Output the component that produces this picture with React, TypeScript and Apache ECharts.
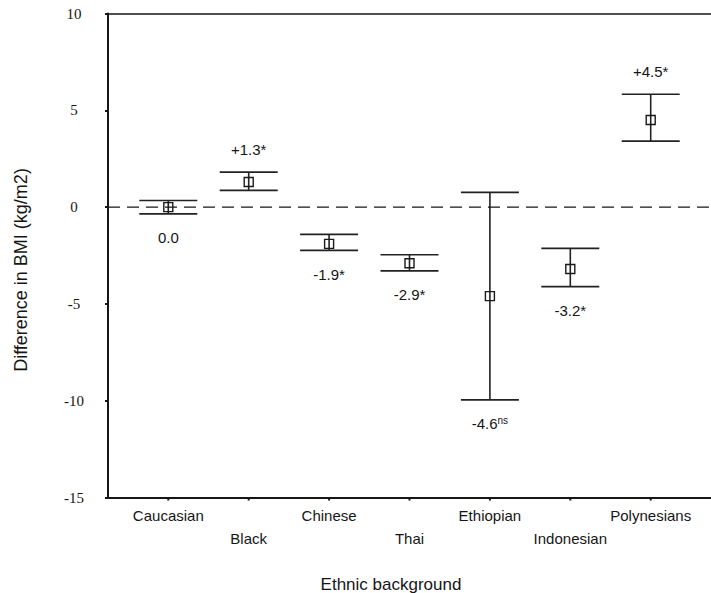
import React, { useEffect, useRef } from 'react';
import * as echarts from 'echarts';

const categories = ['Caucasian', 'Black', 'Chinese', 'Thai', 'Ethiopian', 'Indonesian', 'Polynesians'];
const meanDiff = [0.0, 1.3, -1.9, -2.9, -4.6, -3.2, 4.5];
const upperCI = [0.34, 1.81, -1.41, -2.46, 0.76, -2.13, 5.83];
const lowerCI = [-0.35, 0.86, -2.24, -3.29, -9.96, -4.11, 3.41];
const diffLabels = ['0.0', '+1.3', '-1.9', '-2.9', '-4.6', '-3.2', '+4.5'];
const significance = ['', '*', '*', '*', 'ns', '*', '*'];
const yMin = -15;
const yMax = 10;
const yStep = 5;
const xMin = -0.75;
const xMax = 6.75;

const SANS = '"Liberation Sans", Arial, sans-serif';
const SERIF = '"Liberation Serif", "Times New Roman", serif';
const INK = '#161616';

export default function App() {
  const ref = useRef<HTMLDivElement>(null);
  useEffect(() => {
    if (!ref.current) return;
    const chart = echarts.init(ref.current, undefined, { renderer: 'svg' });
    const barData = categories.map((c, i) => [i, meanDiff[i], lowerCI[i], upperCI[i]]);
    const catData = categories.map((c, i) => [i, yMin]);
    const option: any = {
      animation: false,
      backgroundColor: '#ffffff',
      grid: { left: 108, right: -11, top: 13.5, bottom: 95.5, containLabel: false },
      xAxis: [
        {
          type: 'value', min: xMin, max: xMax, position: 'bottom',
          axisLine: { show: true, onZero: false, lineStyle: { color: INK, width: 2 } },
          axisTick: { show: false }, axisLabel: { show: false }, splitLine: { show: false },
        },
        {
          type: 'value', min: xMin, max: xMax, position: 'top',
          axisLine: { show: true, onZero: false, lineStyle: { color: INK, width: 1.6 } },
          axisTick: { show: false }, axisLabel: { show: false }, splitLine: { show: false },
        },
      ],
      yAxis: {
        type: 'value', min: yMin, max: yMax, interval: yStep,
        axisLine: { show: true, onZero: false, lineStyle: { color: INK, width: 2 } },
        axisTick: { show: true, inside: false, length: 3, lineStyle: { color: INK, width: 2 } },
        axisLabel: { show: true, fontFamily: SERIF, fontSize: 15, color: INK, align: 'center', margin: 34 },
        splitLine: { show: false },
      },
      graphic: [
        {
          type: 'text', x: 21, y: 270, rotation: Math.PI / 2,
          style: { text: 'Difference in BMI (kg/m2)', font: `18px ${SANS}`, fill: INK, align: 'center', verticalAlign: 'middle' },
        },
        {
          type: 'text', x: 391, y: 584,
          style: { text: 'Ethnic background', font: `17px ${SANS}`, fill: INK, align: 'center', verticalAlign: 'middle' },
        },
      ],
      series: [
        {
          type: 'line', xAxisIndex: 0, showSymbol: false, silent: true,
          data: [[xMin, 0], [xMax, 0]],
          lineStyle: { color: INK, width: 1.4, type: [12, 7] },
        },
        {
          type: 'custom', xAxisIndex: 0, silent: true,
          data: barData,
          renderItem: (params: any, api: any) => {
            const i = params.dataIndex;
            const m = api.coord([api.value(0), api.value(1)]);
            const lo = api.coord([api.value(0), api.value(2)]);
            const hi = api.coord([api.value(0), api.value(3)]);
            const cx = m[0];
            const half = 29;
            const box = 9;
            const mean = api.value(1);
            const ly = mean > 0 ? hi[1] - 23 : lo[1] + 24;
            const sig = significance[i];
            const text = sig === 'ns' ? `{v|${diffLabels[i]}}{s|ns}` : `{v|${diffLabels[i]}${sig}}`;
            return {
              type: 'group',
              children: [
                { type: 'line', shape: { x1: cx, y1: hi[1], x2: cx, y2: lo[1] }, style: { stroke: '#222', lineWidth: 1.6 } },
                { type: 'line', shape: { x1: cx - half, y1: hi[1], x2: cx + half, y2: hi[1] }, style: { stroke: '#222', lineWidth: 1.7 } },
                { type: 'line', shape: { x1: cx - half, y1: lo[1], x2: cx + half, y2: lo[1] }, style: { stroke: '#222', lineWidth: 1.7 } },
                { type: 'rect', shape: { x: cx - box / 2, y: m[1] - box / 2, width: box, height: box }, style: { fill: 'none', stroke: '#1a1a1a', lineWidth: 1.4 } },
                {
                  type: 'text', x: cx, y: ly,
                  style: {
                    text, align: 'center', verticalAlign: 'middle', fill: INK,
                    rich: {
                      v: { fontFamily: SANS, fontSize: 15, fill: INK, lineHeight: 17 },
                      s: { fontFamily: SANS, fontSize: 10, fill: INK, lineHeight: 17, verticalAlign: 'top' },
                    },
                  },
                },
              ],
            };
          },
        },
        {
          type: 'custom', xAxisIndex: 0, silent: true,
          data: catData,
          renderItem: (params: any, api: any) => {
            const i = params.dataIndex;
            const p = api.coord([api.value(0), api.value(1)]);
            const dy = i % 2 === 0 ? 18 : 41;
            return {
              type: 'group',
              children: [
                { type: 'line', shape: { x1: p[0], y1: p[1], x2: p[0], y2: p[1] + 3 }, style: { stroke: INK, lineWidth: 2 } },
                {
                  type: 'text', x: p[0], y: p[1] + dy,
                  style: { text: categories[i], font: `15px ${SANS}`, fill: INK, align: 'center', verticalAlign: 'middle' },
                },
              ],
            };
          },
        },
      ],
    };
    chart.setOption(option);
    return () => chart.dispose();
  }, []);
  return <div ref={ref} style={{ position: 'fixed', left: 0, top: 0, width: 711, height: 593 }} />;
}
